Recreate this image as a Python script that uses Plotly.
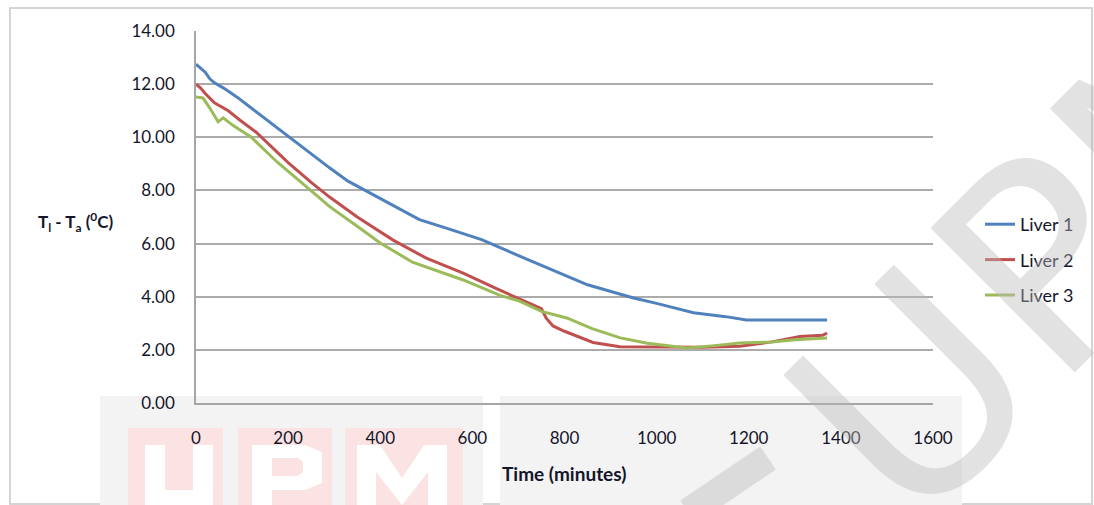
import plotly.graph_objects as go

# ---- data ----
t1 = [0, 10, 20, 30, 40, 60, 90, 120, 150, 200, 250, 290, 330, 375, 420, 485, 540, 620, 700, 790, 850, 950, 1000, 1080, 1150, 1195, 1260, 1370]
v1 = [12.75, 12.6, 12.45, 12.2, 12.05, 11.85, 11.5, 11.1, 10.7, 10.05, 9.4, 8.85, 8.35, 7.92, 7.5, 6.9, 6.6, 6.15, 5.55, 4.9, 4.45, 3.95, 3.75, 3.4, 3.25, 3.12, 3.12, 3.12]

t2 = [0, 10, 20, 40, 70, 95, 130, 200, 250, 290, 350, 428, 500, 580, 650, 700, 750, 760, 775, 800, 862, 920, 1000, 1100, 1181, 1250, 1311, 1360, 1370]
v2 = [12.0, 11.85, 11.65, 11.3, 11.0, 10.65, 10.2, 9.05, 8.3, 7.75, 7.0, 6.13, 5.45, 4.89, 4.32, 3.95, 3.55, 3.2, 2.9, 2.7, 2.28, 2.12, 2.1, 2.1, 2.14, 2.3, 2.5, 2.55, 2.63]

t3 = [0, 15, 30, 48, 59, 80, 120, 176, 240, 291, 350, 400, 470, 580, 660, 700, 750, 805, 860, 921, 980, 1066, 1120, 1181, 1250, 1300, 1370]
v3 = [11.52, 11.48, 11.1, 10.58, 10.73, 10.45, 10.0, 9.07, 8.13, 7.38, 6.65, 6.02, 5.3, 4.63, 4.05, 3.85, 3.45, 3.2, 2.8, 2.45, 2.25, 2.07, 2.15, 2.26, 2.3, 2.38, 2.45]

names = ["Liver 1", "Liver 2", "Liver 3"]
colors = ["#4F81BD", "#C0504D", "#9BBB59"]

x_ticks = [0, 200, 400, 600, 800, 1000, 1200, 1400, 1600]
y_ticks = [0, 2, 4, 6, 8, 10, 12, 14]

W, H = 1094, 505
L, R, T, B = 196, 161, 31, 102
pw, ph = W - L - R, H - T - B


def px(x):
    return (x - L) / pw


def py(y):
    return (H - B - y) / ph


def path(pts_str):
    """convert a pixel-space path 'M x,y L x,y ...' into paper space"""
    out = []
    for tok in pts_str.split():
        if "," in tok:
            a, b = tok.split(",")
            out.append(f"{px(float(a)):.5f},{py(float(b)):.5f}")
        else:
            out.append(tok)
    return " ".join(out)


FONT = "Lato, 'Open Sans', sans-serif"
TXT = "#15152a"
WM_GREY = "rgba(185,185,185,0.42)"

fig = go.Figure()
for i, (t, v) in enumerate([(t1, v1), (t2, v2), (t3, v3)]):
    fig.add_trace(go.Scatter(x=t, y=v, mode="lines", name=names[i],
                             legendgroup=names[i],
                             line=dict(color=colors[i], width=3)))

PINK = "#fbe3e3"
shapes = [
    # outer chart frame
    dict(type="rect", xref="paper", yref="paper", x0=px(10), x1=px(1092), y0=py(504), y1=py(8),
         line=dict(color="#d4d4d4", width=2), fillcolor="rgba(0,0,0,0)", layer="below"),
    # watermark background bands
    dict(type="rect", xref="paper", yref="paper", x0=px(100), x1=px(483), y0=py(505), y1=py(396),
         line=dict(width=0), fillcolor="#f3f3f3", layer="below"),
    dict(type="rect", xref="paper", yref="paper", x0=px(500), x1=px(962), y0=py(505), y1=py(396),
         line=dict(width=0), fillcolor="#f3f3f3", layer="below"),
    # pink watermark blocks
    dict(type="rect", xref="paper", yref="paper", x0=px(128), x1=px(223), y0=py(505), y1=py(428),
         line=dict(width=0), fillcolor=PINK, layer="below"),
    dict(type="rect", xref="paper", yref="paper", x0=px(238), x1=px(332), y0=py(505), y1=py(428),
         line=dict(width=0), fillcolor=PINK, layer="below"),
    dict(type="rect", xref="paper", yref="paper", x0=px(345), x1=px(463), y0=py(505), y1=py(428),
         line=dict(width=0), fillcolor=PINK, layer="below"),
    # white letters U, P, M
    dict(type="path", xref="paper", yref="paper", layer="below", line=dict(width=0), fillcolor="white",
         path=path("M 145,445 L 145,505 L 213,505 L 213,445 L 193,445 L 193,490 L 165,490 L 165,445 Z")),
    dict(type="path", xref="paper", yref="paper", layer="below", line=dict(width=0), fillcolor="white",
         path=path("M 252,445 L 305,445 L 322,452 L 322,483 L 305,490 L 272,490 L 272,505 L 252,505 Z")),
    dict(type="path", xref="paper", yref="paper", layer="below", line=dict(width=0), fillcolor=PINK,
         path=path("M 272,458 L 298,458 L 303,462 L 303,472 L 298,476 L 272,476 Z")),
    dict(type="path", xref="paper", yref="paper", layer="below", line=dict(width=0), fillcolor="white",
         path=path("M 357,505 L 357,445 L 380,445 L 402,478 L 424,445 L 447,445 L 447,505 L 428,505 "
                   "L 428,472 L 402,505 L 376,472 L 376,505 Z")),
    # stroke of the preceding diagonal watermark letter
    dict(type="line", xref="paper", yref="paper", x0=px(688), y0=py(512), x1=px(768), y1=py(458),
         line=dict(color=WM_GREY, width=28), layer="above"),
]

annotations = [
    # diagonal grey watermark (right)
    dict(text="UPM", xref="paper", yref="paper", x=px(1059), y=py(251),
         xanchor="center", yanchor="middle",
         showarrow=False, textangle=-45,
         font=dict(family="DejaVu Sans", size=280, color=WM_GREY)),
    # axis titles
    dict(text="<b>Time (minutes)</b>", xref="paper", yref="paper", x=px(564), y=py(473),
         xanchor="center", yanchor="middle",
         showarrow=False, font=dict(family=FONT, size=19, color=TXT)),
    dict(text="<b>T<sub>l</sub> - T<sub>a</sub> (<sup>0</sup>C)</b>", xref="paper", yref="paper",
         x=px(75), y=py(222), xanchor="center", yanchor="middle",
         showarrow=False, font=dict(family=FONT, size=17, color=TXT)),
]

fig.update_layout(
    width=W, height=H,
    margin=dict(l=L, r=R, t=T, b=B),
    paper_bgcolor="white",
    plot_bgcolor="rgba(0,0,0,0)",
    font=dict(family=FONT, size=17, color=TXT),
    shapes=shapes,
    annotations=annotations,
    showlegend=True,
    legend=dict(x=px(980), y=py(206), xanchor="left", yanchor="top",
                font=dict(family=FONT, size=18, color=TXT),
                tracegroupgap=9, bgcolor="rgba(0,0,0,0)"),
    xaxis=dict(range=[0, 1600], tickvals=x_ticks, ticktext=[str(v) for v in x_ticks],
               showgrid=False, zeroline=False, showline=True, linecolor="#a6a6a6", linewidth=1.5,
               ticks="", ticklabelstandoff=19, tickfont=dict(family=FONT, size=17, color=TXT),
               fixedrange=True),
    yaxis=dict(range=[0, 14], tickvals=y_ticks, ticktext=[f"{v:.2f}" for v in y_ticks],
               showgrid=True, gridcolor="#ababab", gridwidth=1.5, zeroline=False,
               showline=True, linecolor="#a6a6a6", linewidth=1.5,
               ticks="", ticklabelstandoff=16, tickfont=dict(family=FONT, size=17, color=TXT),
               fixedrange=True),
)

fig.write_html("out.html", config={"displayModeBar": False},
               post_script="document.body.style.margin='0';")
